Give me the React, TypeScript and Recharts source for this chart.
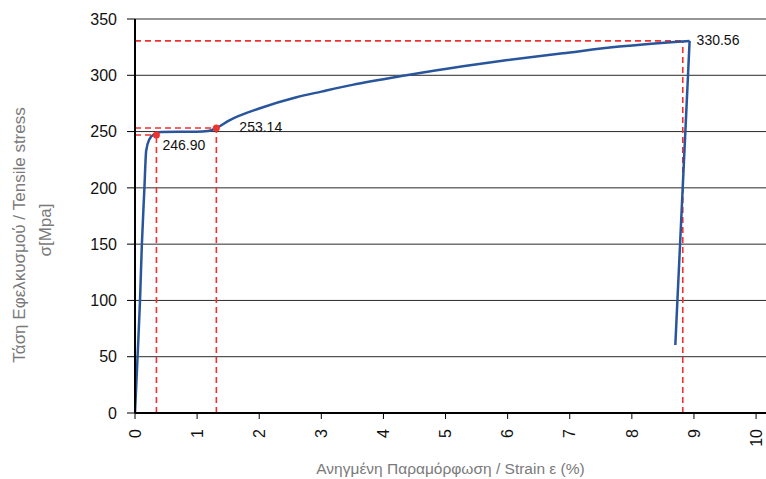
import React from "react";
import {
  LineChart,
  Line,
  XAxis,
  YAxis,
  CartesianGrid,
  ReferenceLine,
  ReferenceDot,
  Label,
} from "recharts";

/* ---- data ---- */

// loading branch: strain (%) vs tensile stress (MPa)
const loadStrain = [
  0, 0.04, 0.08, 0.11, 0.15, 0.18, 0.23, 0.31, 0.42, 0.7, 1.0, 1.17, 1.31,
  1.52, 2.0, 2.6, 3.0, 3.5, 4.37, 5.28, 6.0, 6.89, 7.8, 8.93,
];
const loadStress = [
  0, 48.6, 98.9, 149, 198, 233, 243, 247.8, 249.6, 249.8, 249.8, 250.5, 253.14,
  260, 270.5, 280.5, 285.5, 291.5, 300, 308, 313.5, 319.5, 325.5, 330.56,
];

// fracture / unloading drop
const dropStrain = [8.93, 8.7];
const dropStress = [330.56, 60.4];

// marked points (strain, stress, label)
const markStrain = [0.345, 1.31, 8.82];
const markStress = [246.9, 253.14, 330.56];
const markLabels = ["246.90", "253.14", "330.56"];

const xTicks = [0, 1, 2, 3, 4, 5, 6, 7, 8, 9, 10];
const yTicks = [0, 50, 100, 150, 200, 250, 300, 350];

const xTitle = "Ανηγμένη Παραμόρφωση / Strain ε (%)";
const yTitle = ["Τάση Εφελκυσμού / Tensile stress", "σ[Mpa]"];

const loadData = loadStrain.map((x, i) => ({ x, y: loadStress[i] }));
const dropData = dropStrain.map((x, i) => ({ x, y: dropStress[i] }));

/* ---- styling ---- */

const FONT = '"Liberation Sans", Arial, Helvetica, sans-serif';
const BLUE = "#28559c";
const RED = "#f0312d";
const TITLE_GREY = "#7a7a7a";

// label offset from each marked point (dx, dy to baseline), and whether a dot is drawn
const markStyle = [
  { dx: 6, dy: 15, dot: true },
  { dx: 23, dy: 4, dot: true },
  { dx: 7, dy: 4, dot: false },
];

function XTick({ x, y, payload }: any) {
  const ty = y + 8;
  return (
    <text
      x={x}
      y={ty}
      transform={`rotate(-90 ${x} ${ty})`}
      textAnchor="end"
      dy="0.36em"
      fontSize={16}
      fill="#111"
      fontFamily={FONT}
    >
      {payload.value}
    </text>
  );
}

function YTitle() {
  return (
    <g fontFamily={FONT} fontSize={17} fill={TITLE_GREY}>
      <text
        x={19}
        y={235}
        transform="rotate(-90 19 235)"
        textAnchor="middle"
        dy="0.35em"
      >
        {yTitle[0]}
      </text>
      <text
        x={45}
        y={230}
        transform="rotate(-90 45 230)"
        textAnchor="middle"
        dy="0.35em"
      >
        {yTitle[1]}
      </text>
    </g>
  );
}

function MarkShape(idx: number) {
  return (props: any) => {
    const { cx, cy } = props;
    const s = markStyle[idx];
    return (
      <g>
        {s.dot && <circle cx={cx} cy={cy} r={3.5} fill={RED} />}
        <text
          x={cx + s.dx}
          y={cy + s.dy}
          fontSize={14}
          fontFamily={FONT}
          fill="#111"
        >
          {markLabels[idx]}
        </text>
      </g>
    );
  };
}

export default function App() {
  return (
    <div style={{ position: "absolute", left: 0, top: 0, width: 766, height: 479 }}>
      <LineChart
        width={766}
        height={479}
        margin={{ top: 19, right: 0, bottom: 0, left: 0 }}
        style={{ fontFamily: FONT }}
      >
        <CartesianGrid vertical={false} stroke="#2a2a2a" strokeWidth={1} />
        <XAxis
          type="number"
          dataKey="x"
          domain={[0, 10.16]}
          ticks={xTicks}
          allowDataOverflow
          height={66}
          tickSize={6}
          axisLine={{ stroke: "#000", strokeWidth: 2 }}
          tickLine={{ stroke: "#000" }}
          tick={<XTick />}
          interval={0}
        >
          <Label
            value={xTitle}
            position="insideBottom"
            offset={5}
            fontSize={15.5}
            fill={TITLE_GREY}
            fontFamily={FONT}
          />
        </XAxis>
        <YAxis
          type="number"
          dataKey="y"
          domain={[0, 350]}
          ticks={yTicks}
          width={135}
          tickSize={8}
          tickMargin={10}
          axisLine={{ stroke: "#000", strokeWidth: 2 }}
          tickLine={{ stroke: "#000" }}
          tick={{ fontSize: 16, fill: "#111", fontFamily: FONT }}
          interval={0}
        >
          <Label content={<YTitle />} />
        </YAxis>

        {markStrain.map((mx, i) => (
          <ReferenceLine
            key={`h${i}`}
            segment={[
              { x: 0, y: markStress[i] },
              { x: mx, y: markStress[i] },
            ]}
            stroke={RED}
            strokeWidth={1.6}
            strokeDasharray="6 4"
          />
        ))}
        {markStrain.map((mx, i) => (
          <ReferenceLine
            key={`v${i}`}
            segment={[
              { x: mx, y: 0 },
              { x: mx, y: markStress[i] },
            ]}
            stroke={RED}
            strokeWidth={1.6}
            strokeDasharray="6 4"
          />
        ))}

        <Line
          data={loadData}
          dataKey="y"
          type="monotone"
          stroke={BLUE}
          strokeWidth={2.5}
          dot={false}
          isAnimationActive={false}
        />
        <Line
          data={dropData}
          dataKey="y"
          type="linear"
          stroke={BLUE}
          strokeWidth={2.5}
          dot={false}
          isAnimationActive={false}
        />

        {markStrain.map((mx, i) => (
          <ReferenceDot
            key={`d${i}`}
            x={i === 2 ? dropStrain[0] : mx}
            y={markStress[i]}
            r={3.5}
            shape={MarkShape(i)}
          />
        ))}
      </LineChart>
    </div>
  );
}
